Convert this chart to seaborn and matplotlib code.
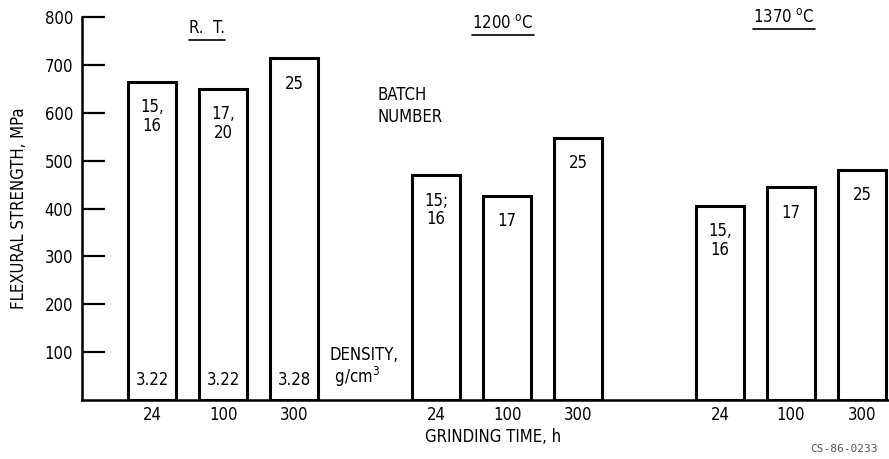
import matplotlib
matplotlib.use("Agg")
import matplotlib.pyplot as plt
from matplotlib.lines import Line2D
import seaborn as sns
import pandas as pd

# Flexural strength vs. grinding time at three test temperatures
groups = ["R.  T.", "1200 $^{\\mathrm{o}}$C", "1370 $^{\\mathrm{o}}$C"]
grinding_h = ["24", "100", "300"]
strength_mpa = [665, 650, 714, 470, 427, 548, 406, 444, 481]
batch_numbers = ["15,\n16", "17,\n20", "25",
                 "15;\n16", "17", "25",
                 "15,\n16", "17", "25"]
density_rt = ["3.22", "3.22", "3.28"]
y_ticks = [100, 200, 300, 400, 500, 600, 700, 800]

sns.set_theme(style="white")
plt.rcParams["font.family"] = ["DejaVu Sans"]
plt.rcParams["font.stretch"] = "condensed"
plt.rcParams["mathtext.fontset"] = "dejavusans"
for k in ["text.color", "axes.labelcolor", "xtick.color", "ytick.color"]:
    plt.rcParams[k] = "black"

FS = 12

# bar positions: three bars per group, one empty slot between groups
pos = [g * (len(grinding_h) + 1) + i
       for g in range(len(groups)) for i in range(len(grinding_h))]
df = pd.DataFrame({"pos": pos, "strength": strength_mpa,
                   "hours": grinding_h * len(groups), "batch": batch_numbers})

fig = plt.figure(figsize=(8.89, 4.59), dpi=100)
ax = fig.add_axes([0.0922, 0.1285, 0.9078, 0.8345])

sns.barplot(data=df, x="pos", y="strength", native_scale=True, width=0.68,
            color="white", saturation=1, edgecolor="black", linewidth=2.2,
            errorbar=None, ax=ax)

ax.set_xlim(-0.99, 10.38)
ax.set_ylim(0, 800)
ax.set_yticks(y_ticks)
ax.set_xticks(df["pos"])
ax.set_xticklabels(df["hours"])
ax.tick_params(axis="y", direction="in", length=16.5, width=1.6,
               color="black", labelsize=FS, pad=6.5, left=True)
ax.tick_params(axis="x", length=0, labelsize=FS, pad=4)
for s in ["top", "right"]:
    ax.spines[s].set_visible(False)
for s in ["left", "bottom"]:
    ax.spines[s].set_color("black")
    ax.spines[s].set_linewidth(1.8)
ax.set_xlabel("")
ax.set_ylabel("FLEXURAL STRENGTH, MPa", fontsize=FS, labelpad=12)

# batch numbers just inside the top of each bar
for p, v, b in zip(df["pos"], df["strength"], df["batch"]):
    ax.annotate(b, xy=(p, v), xytext=(0, -12), textcoords="offset points",
                ha="center", va="top", fontsize=FS, linespacing=1.05)

# densities near the base of the room-temperature bars
for p, d in zip(df["pos"][:len(density_rt)], density_rt):
    ax.text(p, 42, d, ha="center", va="center", fontsize=FS)

ax.text(2.5, 68, "DENSITY,\n g/cm$^3$", ha="left", va="center",
        fontsize=FS, linespacing=1.0)
ax.text(3.18, 614, "BATCH\nNUMBER", ha="left", va="center",
        fontsize=FS, linespacing=1.35)

ax.text(4.8, -77, "GRINDING TIME, h", ha="center", va="center",
        fontsize=FS, clip_on=False)

# underlined temperature headings
title_x = [0.77, 4.94, 8.9]
title_y = [777, 788, 800]
titles = []
for x, y, t in zip(title_x, title_y, groups):
    titles.append(ax.text(x, y, t, ha="center", va="center",
                          fontsize=FS, clip_on=False))

fig.text(0.987, 0.022, "CS-86-0233", ha="right", va="center",
         fontsize=8, color="#555555", family="DejaVu Sans Mono")

fig.canvas.draw()
renderer = fig.canvas.get_renderer()
inv = fig.transFigure.inverted()
for t in titles:
    bb = t.get_window_extent(renderer)
    (x0, y0), (x1, _) = inv.transform([(bb.x0, bb.y0 - 3), (bb.x1, bb.y0 - 3)])
    fig.add_artist(Line2D([x0, x1], [y0, y0], color="black", lw=1.2,
                          transform=fig.transFigure))

fig.savefig("out.png", dpi=100)
